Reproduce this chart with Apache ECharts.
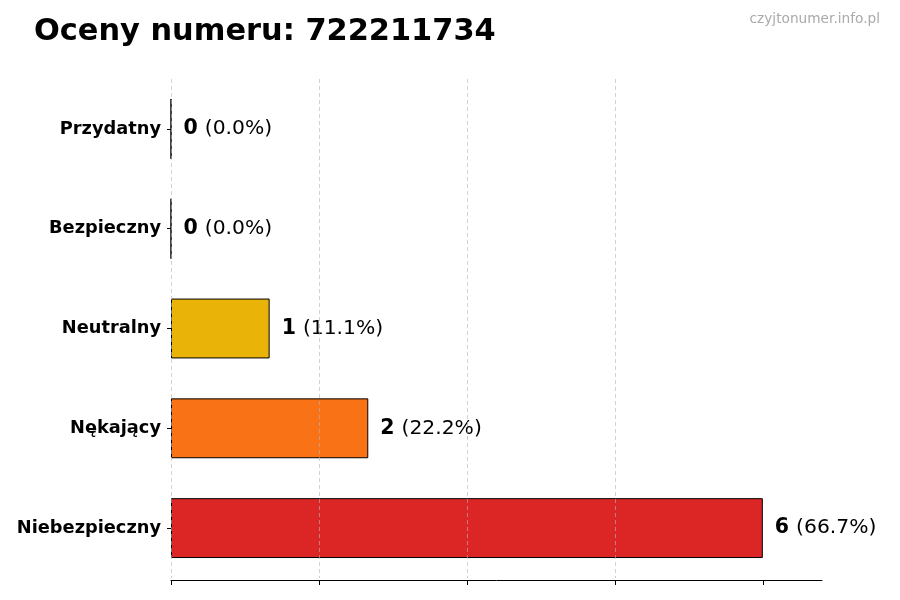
<!DOCTYPE html>
<html><head><meta charset="utf-8">
<script src="https://cdn.jsdelivr.net/npm/echarts@6/dist/echarts.min.js"></script>
<style>html,body{margin:0;padding:0;background:#fff}#c{width:900px;height:600px}</style>
</head><body><div id="c"></div>
<script>
const categories = ['Przydatny','Bezpieczny','Neutralny','Nękający','Niebezpieczny'];
const values = [0,0,1,2,6];
const percents = ['0.0%','0.0%','11.1%','22.2%','66.7%'];
const colors = ['#16a34a','#22c55e','#eab308','#f97316','#dc2626'];
const xTicks = [0,1.5,3,4.5,6];

const chart = echarts.init(document.getElementById('c'));
chart.setOption({
  animation:false,
  title:[{text:'Oceny numeru: 722211734',left:29,top:12,textStyle:{fontFamily:'DejaVu Sans',fontSize:30.4,fontWeight:'bold',color:'#000'}},
         {text:'czyjtonumer.info.pl',right:15,top:7,textStyle:{fontFamily:'DejaVu Sans',fontSize:13.7,fontWeight:'normal',color:'#aaaaaa'}}],
  grid:{left:171,right:78,top:79,bottom:22,containLabel:false},
  xAxis:{type:'value',min:0,max:6.6,interval:1.5,z:5,offset:2,
    axisLine:{show:true,lineStyle:{color:'#000',width:1}},
    axisTick:{show:true,length:5,lineStyle:{color:'#000'},customValues:xTicks},
    axisLabel:{show:false},
    splitLine:{show:true,showMaxLine:false,lineStyle:{type:[4,3],color:'rgba(180,180,180,0.6)',width:1}}},
  yAxis:{type:'category',data:categories,inverse:true,
    axisLine:{show:false},
    axisTick:{show:true,alignWithLabel:true,length:4,lineStyle:{color:'#000'}},
    axisLabel:{fontFamily:'DejaVu Sans',fontSize:17.8,fontWeight:'bold',color:'#000',margin:10}},
  series:[{type:'bar',barWidth:'60%',
    data:values.map((v,i)=>({value:v,itemStyle:{color:colors[i]}})),
    itemStyle:{borderColor:'#000',borderWidth:1},
    label:{show:true,position:'right',distance:12,
      formatter:p=>'{b|'+values[p.dataIndex]+'}{n|('+percents[p.dataIndex]+')}',
      rich:{b:{fontFamily:'DejaVu Sans',fontSize:20.5,fontWeight:'bold',color:'#000',padding:[0,7,0,0]},
            n:{fontFamily:'DejaVu Sans',fontSize:20.3,color:'#000'}}}
  }]
});
</script></body></html>
